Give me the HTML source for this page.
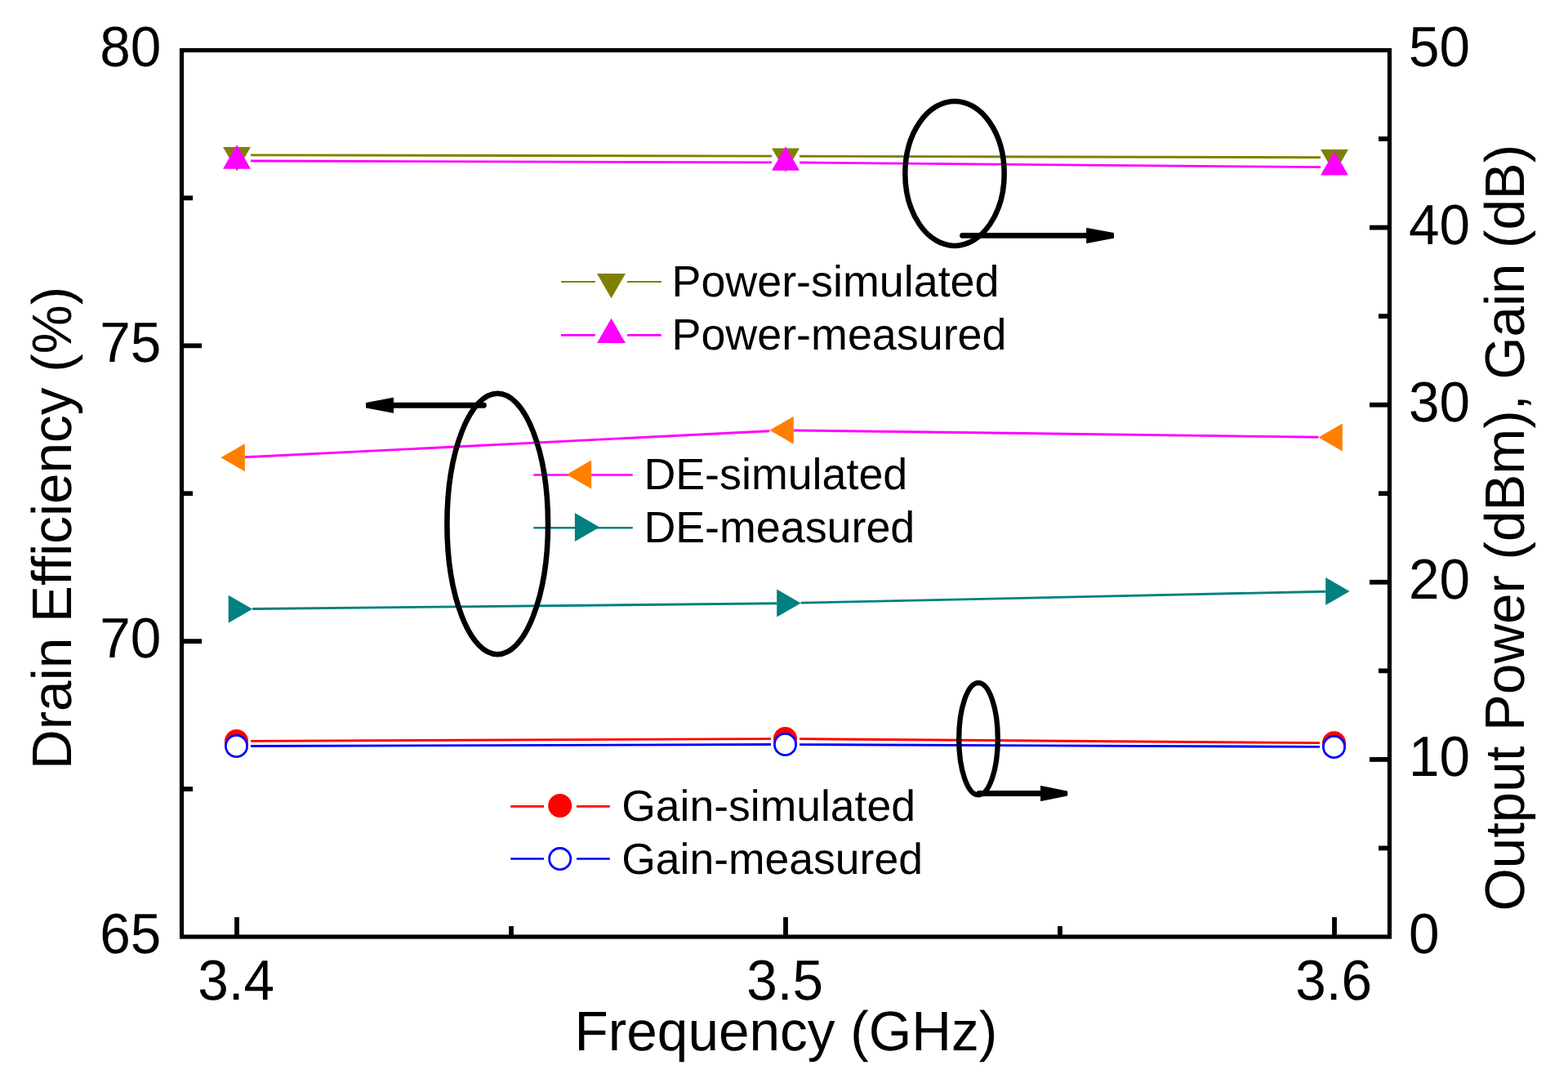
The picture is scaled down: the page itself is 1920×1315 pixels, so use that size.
<!DOCTYPE html><html><head><meta charset="utf-8"><title>Drain Efficiency, Output Power and Gain vs Frequency</title>
<style>html,body{margin:0;padding:0;background:#fff;}svg{display:block;text-rendering:geometricPrecision;}text{font-family:"Liberation Sans",Arial,Helvetica,sans-serif;fill:#000;}</style></head><body>
<svg width="1920" height="1315" viewBox="0 0 1920 1315">
<rect x="0" y="0" width="1920" height="1315" fill="#fff"/>
<line x1="307.00" y1="189.84" x2="945.00" y2="191.16" stroke="#808000" stroke-width="2.9"/><line x1="979.00" y1="191.24" x2="1617.00" y2="192.76" stroke="#808000" stroke-width="2.9"/>
<polygon points="273.00,179.99 307.00,179.99 290.00,209.43" fill="#808000"/>
<polygon points="945.00,181.39 979.00,181.39 962.00,210.83" fill="#808000"/>
<polygon points="1617.00,182.99 1651.00,182.99 1634.00,212.43" fill="#808000"/>
<line x1="307.00" y1="197.05" x2="945.00" y2="198.85" stroke="#ff00ff" stroke-width="2.9"/><line x1="979.00" y1="199.05" x2="1617.00" y2="204.65" stroke="#ff00ff" stroke-width="2.9"/>
<polygon points="273.00,206.81 307.00,206.81 290.00,177.37" fill="#ff00ff"/>
<polygon points="945.00,208.71 979.00,208.71 962.00,179.27" fill="#ff00ff"/>
<polygon points="1617.00,214.61 1651.00,214.61 1634.00,185.17" fill="#ff00ff"/>
<line x1="299.81" y1="559.81" x2="942.37" y2="527.78" stroke="#ff00ff" stroke-width="2.9"/><line x1="971.81" y1="526.93" x2="1614.37" y2="535.25" stroke="#ff00ff" stroke-width="2.9"/>
<polygon points="299.81,543.30 299.81,577.30 270.37,560.30" fill="#ff8000"/>
<polygon points="971.81,509.80 971.81,543.80 942.37,526.80" fill="#ff8000"/>
<polygon points="1643.81,518.50 1643.81,552.50 1614.37,535.50" fill="#ff8000"/>
<line x1="309.13" y1="745.49" x2="951.19" y2="738.70" stroke="#008080" stroke-width="2.9"/><line x1="980.63" y1="738.17" x2="1623.19" y2="724.21" stroke="#008080" stroke-width="2.9"/>
<polygon points="279.69,728.70 279.69,762.70 309.13,745.70" fill="#008080"/>
<polygon points="951.19,721.60 951.19,755.60 980.63,738.60" fill="#008080"/>
<polygon points="1623.19,707.00 1623.19,741.00 1652.63,724.00" fill="#008080"/>
<line x1="307.00" y1="907.42" x2="944.00" y2="904.58" stroke="#ff0000" stroke-width="2.9"/><line x1="979.00" y1="904.64" x2="1616.00" y2="909.66" stroke="#ff0000" stroke-width="2.9"/>
<circle cx="289.5" cy="907.5" r="14.5" fill="#ff0000"/>
<circle cx="961.5" cy="904.5" r="14.5" fill="#ff0000"/>
<circle cx="1633.5" cy="909.8" r="14.5" fill="#ff0000"/>
<line x1="307.00" y1="913.45" x2="944.00" y2="911.55" stroke="#0000ff" stroke-width="2.9"/><line x1="979.00" y1="911.58" x2="1616.00" y2="914.42" stroke="#0000ff" stroke-width="2.9"/>
<circle cx="289.5" cy="913.5" r="13.1" fill="#fff" stroke="#0000ff" stroke-width="2.8"/>
<circle cx="961.5" cy="911.5" r="13.1" fill="#fff" stroke="#0000ff" stroke-width="2.8"/>
<circle cx="1633.5" cy="914.5" r="13.1" fill="#fff" stroke="#0000ff" stroke-width="2.8"/>
<line x1="687" y1="345" x2="729" y2="345" stroke="#808000" stroke-width="2.0"/><line x1="768" y1="345" x2="810" y2="345" stroke="#808000" stroke-width="2.0"/><polygon points="731.00,334.90 766.00,334.90 748.50,365.21" fill="#808000"/>
<line x1="687" y1="410.4" x2="729" y2="410.4" stroke="#ff00ff" stroke-width="2.6"/><line x1="768" y1="410.4" x2="810" y2="410.4" stroke="#ff00ff" stroke-width="2.6"/><polygon points="731.00,420.10 766.00,420.10 748.50,389.79" fill="#ff00ff"/>
<line x1="653.3" y1="581.5" x2="774.8" y2="581.5" stroke="#ff00ff" stroke-width="2.6"/><polygon points="724.10,563.50 724.10,598.50 693.79,581.00" fill="#ff8000"/>
<line x1="653.3" y1="646.3" x2="774.8" y2="646.3" stroke="#008080" stroke-width="2.6"/><polygon points="703.90,628.10 703.90,663.10 734.21,645.60" fill="#008080"/>
<line x1="625.2" y1="987.4" x2="666" y2="987.4" stroke="#ff0000" stroke-width="2.6"/><line x1="706" y1="987.4" x2="746.8" y2="987.4" stroke="#ff0000" stroke-width="2.6"/>
<circle cx="685.7" cy="986.5" r="14.5" fill="#ff0000"/>
<line x1="625.2" y1="1051.5" x2="666" y2="1051.5" stroke="#0000ff" stroke-width="2.7"/><line x1="706" y1="1051.5" x2="746.8" y2="1051.5" stroke="#0000ff" stroke-width="2.7"/>
<circle cx="685.7" cy="1051.6" r="13.1" fill="#fff" stroke="#0000ff" stroke-width="2.8"/>
<text x="822.50" y="362.80" font-size="53.85" text-anchor="start">Power-simulated</text>
<text x="822.50" y="427.80" font-size="53.85" text-anchor="start">Power-measured</text>
<text x="788.40" y="598.90" font-size="53.8" text-anchor="start">DE-simulated</text>
<text x="788.40" y="664.00" font-size="53.8" text-anchor="start">DE-measured</text>
<text x="761.20" y="1005.00" font-size="53.5" text-anchor="start">Gain-simulated</text>
<text x="761.20" y="1070.00" font-size="53.5" text-anchor="start">Gain-measured</text>
<g fill="none" stroke="#000">
<ellipse cx="1169" cy="212.4" rx="60.7" ry="88.5" stroke-width="6.5"/>
<ellipse cx="609.2" cy="641.5" rx="61.8" ry="159.7" stroke-width="6.6"/>
<ellipse cx="1198" cy="904.8" rx="23.8" ry="68.6" stroke-width="6.3"/>
</g>
<line x1="1178.6" y1="288.4" x2="1330.2" y2="288.4" stroke="#000" stroke-width="6.9" stroke-linecap="round"/><polygon points="1330.80,279.50 1363.40,285.70 1363.40,291.10 1330.80,297.30" fill="#000" stroke="#000" stroke-width="1.2" stroke-linejoin="round"/>
<line x1="592.4" y1="496.2" x2="482" y2="496.2" stroke="#000" stroke-width="6.9" stroke-linecap="round"/><polygon points="481.40,487.30 448.60,493.50 448.60,498.90 481.40,505.10" fill="#000" stroke="#000" stroke-width="1.2" stroke-linejoin="round"/>
<line x1="1199" y1="971.5" x2="1274" y2="971.5" stroke="#000" stroke-width="6.9" stroke-linecap="round"/><polygon points="1274.60,962.60 1306.60,969.20 1306.60,973.80 1274.60,980.40" fill="#000" stroke="#000" stroke-width="1.2" stroke-linejoin="round"/>
<rect x="222.5" y="61.5" width="1479.0" height="1085.5" fill="none" stroke="#000" stroke-width="5.2"/>
<g stroke="#000" stroke-width="5.8" stroke-linecap="butt"><line x1="222.5" y1="785.17" x2="247.0" y2="785.17"/><line x1="222.5" y1="423.33" x2="247.0" y2="423.33"/><line x1="222.5" y1="966.08" x2="236.0" y2="966.08"/><line x1="222.5" y1="604.25" x2="236.0" y2="604.25"/><line x1="222.5" y1="242.42" x2="236.0" y2="242.42"/><line x1="1701.5" y1="929.90" x2="1677.0" y2="929.90"/><line x1="1701.5" y1="712.80" x2="1677.0" y2="712.80"/><line x1="1701.5" y1="495.70" x2="1677.0" y2="495.70"/><line x1="1701.5" y1="278.60" x2="1677.0" y2="278.60"/><line x1="1701.5" y1="1038.45" x2="1688.0" y2="1038.45"/><line x1="1701.5" y1="821.35" x2="1688.0" y2="821.35"/><line x1="1701.5" y1="604.25" x2="1688.0" y2="604.25"/><line x1="1701.5" y1="387.15" x2="1688.0" y2="387.15"/><line x1="1701.5" y1="170.05" x2="1688.0" y2="170.05"/><line x1="290.0" y1="1147.0" x2="290.0" y2="1123.0"/><line x1="962.0" y1="1147.0" x2="962.0" y2="1123.0"/><line x1="1634.0" y1="1147.0" x2="1634.0" y2="1123.0"/><line x1="626" y1="1147.0" x2="626" y2="1134.0"/><line x1="1298" y1="1147.0" x2="1298" y2="1134.0"/></g>
<text x="0" y="0" font-size="67.5" text-anchor="end" transform="translate(197.40,1166.90) scale(1,1.03)">65</text>
<text x="0" y="0" font-size="67.5" text-anchor="end" transform="translate(197.40,805.07) scale(1,1.03)">70</text>
<text x="0" y="0" font-size="67.5" text-anchor="end" transform="translate(197.40,443.23) scale(1,1.03)">75</text>
<text x="0" y="0" font-size="67.5" text-anchor="end" transform="translate(197.40,81.40) scale(1,1.03)">80</text>
<text x="0" y="0" font-size="67.5" text-anchor="start" transform="translate(1725.00,1166.90) scale(1,1.03)">0</text>
<text x="0" y="0" font-size="67.5" text-anchor="start" transform="translate(1725.00,949.80) scale(1,1.03)">10</text>
<text x="0" y="0" font-size="67.5" text-anchor="start" transform="translate(1725.00,732.70) scale(1,1.03)">20</text>
<text x="0" y="0" font-size="67.5" text-anchor="start" transform="translate(1725.00,515.60) scale(1,1.03)">30</text>
<text x="0" y="0" font-size="67.5" text-anchor="start" transform="translate(1725.00,298.50) scale(1,1.03)">40</text>
<text x="0" y="0" font-size="67.5" text-anchor="start" transform="translate(1725.00,81.40) scale(1,1.03)">50</text>
<text x="0" y="0" font-size="67.5" text-anchor="middle" transform="translate(289.20,1223.60) scale(1,1.03)">3.4</text>
<text x="0" y="0" font-size="67.5" text-anchor="middle" transform="translate(961.20,1223.60) scale(1,1.03)">3.5</text>
<text x="0" y="0" font-size="67.5" text-anchor="middle" transform="translate(1633.20,1223.60) scale(1,1.03)">3.6</text>
<text x="0" y="0" font-size="67.5" text-anchor="start" transform="translate(703.60,1286.00) scale(1,1.012)">Frequency (GHz)</text>
<text x="0" y="0" font-size="67.5" transform="translate(87,942.1) rotate(-90) scale(1,1.012)">Drain Efficiency (%)</text>
<text x="0" y="0" font-size="67.3" transform="translate(1865.7,1115.6) rotate(-90) scale(1,1.012)">Output Power (dBm), Gain (dB)</text>
</svg></body></html>
